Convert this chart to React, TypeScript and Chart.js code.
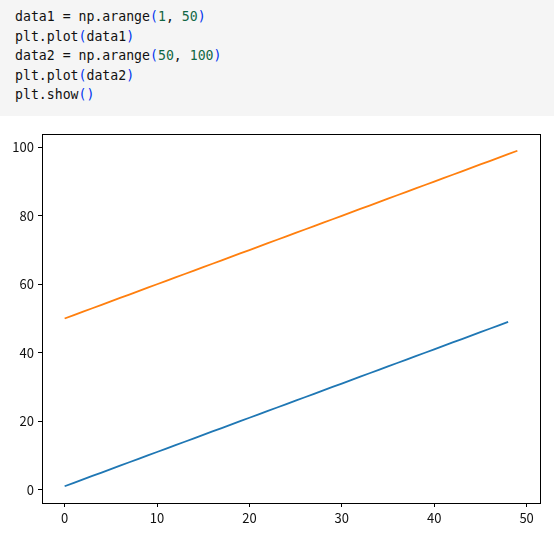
import React, { useEffect, useRef } from "react";
import { Chart, registerables } from "chart.js";

Chart.register(...registerables);

const data1: number[] = [1, 2, 3, 4, 5, 6, 7, 8, 9, 10, 11, 12, 13, 14, 15, 16, 17, 18, 19, 20, 21, 22, 23, 24, 25, 26, 27, 28, 29, 30, 31, 32, 33, 34, 35, 36, 37, 38, 39, 40, 41, 42, 43, 44, 45, 46, 47, 48, 49];
const data2: number[] = [50, 51, 52, 53, 54, 55, 56, 57, 58, 59, 60, 61, 62, 63, 64, 65, 66, 67, 68, 69, 70, 71, 72, 73, 74, 75, 76, 77, 78, 79, 80, 81, 82, 83, 84, 85, 86, 87, 88, 89, 90, 91, 92, 93, 94, 95, 96, 97, 98, 99];
const xTicks: number[] = [0, 10, 20, 30, 40, 50];
const yTicks: number[] = [0, 20, 40, 60, 80, 100];

const NUM = "#116644";
const BR = "#0033ee";

const frame = {
  id: "frame",
  afterDraw(chart: any) {
    const { ctx, chartArea } = chart;
    ctx.save();
    ctx.strokeStyle = "#000";
    ctx.lineWidth = 1;
    ctx.strokeRect(
      Math.round(chartArea.left) + 0.5,
      Math.round(chartArea.top) + 0.5,
      Math.round(chartArea.right - chartArea.left),
      Math.round(chartArea.bottom - chartArea.top)
    );
    ctx.restore();
  },
};

export default function App() {
  const ref = useRef<HTMLCanvasElement | null>(null);
  useEffect(() => {
    document.body.style.margin = "0";
    const toPts = (arr: number[]) => arr.map((v, i) => ({ x: i, y: v }));
    const font = { family: "'Noto Sans CJK KR', 'DejaVu Sans', sans-serif", size: 13 };
    const chart = new Chart(ref.current!, {
      type: "line",
      data: {
        datasets: [
          { data: toPts(data1), borderColor: "#1f77b4", borderWidth: 1.8, pointRadius: 0, fill: false, tension: 0 },
          { data: toPts(data2), borderColor: "#ff7f0e", borderWidth: 1.8, pointRadius: 0, fill: false, tension: 0 },
        ],
      },
      options: {
        animation: false,
        responsive: false,
        maintainAspectRatio: false,
        layout: { padding: { top: 18, right: 14, left: 0, bottom: 0 } },
        plugins: { legend: { display: false }, tooltip: { enabled: false } },
        scales: {
          x: {
            type: "linear",
            min: -2.45,
            max: 51.45,
            afterBuildTicks: (s: any) => { s.ticks = xTicks.map((v) => ({ value: v })); },
            afterFit: (s: any) => { s.height = 31; },
            grid: { drawOnChartArea: false, drawTicks: true, tickLength: 4, color: "#000" },
            border: { display: false },
            ticks: { color: "#111", font, padding: 3, maxRotation: 0 },
          },
          y: {
            type: "linear",
            min: -3.9,
            max: 103.9,
            afterBuildTicks: (s: any) => { s.ticks = yTicks.map((v) => ({ value: v })); },
            afterFit: (s: any) => { s.width = 42; },
            grid: { drawOnChartArea: false, drawTicks: true, tickLength: 4, color: "#000" },
            border: { display: false },
            ticks: { color: "#111", font, padding: 4 },
          },
        },
      },
      plugins: [frame],
    });
    return () => chart.destroy();
  }, []);

  const codeStyle: React.CSSProperties = {
    position: "absolute",
    left: 0,
    top: 0,
    width: 554,
    height: 116,
    background: "#f5f5f5",
    fontFamily: "'DejaVu Sans Mono', monospace",
    fontSize: 13.2,
    lineHeight: "19.5px",
    color: "#111",
    boxSizing: "border-box",
    padding: "7px 0 0 15px",
    whiteSpace: "pre",
  };

  return (
    <div style={{ position: "relative", width: 554, height: 534, background: "#fff" }}>
      <div style={codeStyle}>
        <div>data1 = np.arange<span style={{ color: BR }}>(</span><span style={{ color: NUM }}>1</span>, <span style={{ color: NUM }}>50</span><span style={{ color: BR }}>)</span></div>
        <div>plt.plot<span style={{ color: BR }}>(</span>data1<span style={{ color: BR }}>)</span></div>
        <div>data2 = np.arange<span style={{ color: BR }}>(</span><span style={{ color: NUM }}>50</span>, <span style={{ color: NUM }}>100</span><span style={{ color: BR }}>)</span></div>
        <div>plt.plot<span style={{ color: BR }}>(</span>data2<span style={{ color: BR }}>)</span></div>
        <div>plt.show<span style={{ color: BR }}>()</span></div>
      </div>
      <canvas ref={ref} width={554} height={418} style={{ position: "absolute", left: 0, top: 116, display: "block" }} />
    </div>
  );
}
